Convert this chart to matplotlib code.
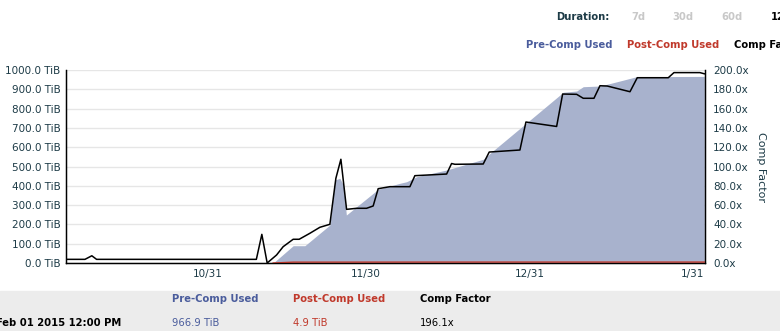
import matplotlib
matplotlib.use("Agg")
import matplotlib.pyplot as plt
from matplotlib.patches import Rectangle

# days relative to 10/31/2014
cf_day = [-26.7, -23.3, -22.0, -21.1, 9.2, 10.24, 11.25, 13.03, 14.28, 16.18, 17.32,
          19.35, 21.24, 23.14, 24.28, 25.23, 26.31, 28.21, 30.10, 31.35, 32.30,
          34.52, 38.32, 39.26, 45.28, 46.22, 46.85, 52.22, 53.36, 59.18, 60.32,
          66.14, 67.28, 69.94, 71.19, 73.22, 74.36, 75.74, 80.05, 81.43, 87.31,
          88.39, 93.32, 94.14]
comp_factor = [3.8, 3.8, 7.5, 3.8, 3.8, 29.7, 0.0, 8.3, 16.9, 24.6, 24.6,
               30.8, 37.0, 40.1, 87.8, 107.5, 55.6, 56.7, 56.7, 59.1, 77.0,
               79.1, 79.1, 90.5, 92.2, 103.1, 102.3, 102.6, 115.0, 117.1, 146.1,
               141.5, 175.1, 174.8, 170.7, 170.7, 183.7, 183.4, 177.5, 192.0, 192.0,
               197.3, 197.3, 196.1]

pre_day = [-26.9, 11.44, 12.39, 16.18, 18.40, 23.14, 24.09, 25.04, 25.7, 26.27,
           32.30, 36.42, 37.69, 39.59, 45.28, 52.22, 54.11, 67.39, 69.94, 71.19,
           74.36, 76.88, 81.32, 94.14]
pre_comp = [0, 0, 0, 89.6, 89.6, 196.9, 430, 438.9, 403, 248.7,
            381.9, 413, 421, 447, 481.9, 537.3, 581.9, 884.5, 891.2, 913.5,
            917, 934.2, 965.3, 966.9]

post_day = [12.39, 16.18, 25.0, 40.0, 60.0, 94.14]
post_comp = [0, 4.5, 4.6, 4.8, 4.9, 4.9]

tick_days = [0, 30, 61, 92]
tick_labels = ['10/31', '11/30', '12/31', '1/31']

txt = '#1d3b47'
hdr = dict(family='DejaVu Sans', fontstretch='condensed', fontsize=8, va='center')

fig = plt.figure(figsize=(7.8, 3.31), dpi=100)
fig.patches.append(Rectangle((0, 0), 1, 0.121, transform=fig.transFigure,
                             color='#ececec', zorder=0))

ax = fig.add_axes([0.0846, 0.2054, 0.8192, 0.5831])
ax.fill_between(pre_day, pre_comp, 0, color='#a8b2cd', lw=0, zorder=2)
ax.plot(post_day, post_comp, color='#c0392b', lw=1, zorder=3)
ax.set_xlim(-26.9, 94.27)
ax.set_ylim(0, 1000)
ax.set_yticks(range(0, 1001, 100))
ax.set_yticklabels(['%.1f TiB' % v for v in range(0, 1001, 100)])
ax.set_xticks(tick_days)
ax.set_xticklabels(tick_labels)
ax.grid(axis='y', color='#e6e6e6', lw=1, zorder=0)
ax.set_axisbelow(True)
ax.tick_params(length=0, labelsize=7.5, labelcolor=txt, pad=4)
ax.spines['top'].set_visible(False)
for s in ['left', 'bottom', 'right']:
    ax.spines[s].set_color('black')
    ax.spines[s].set_linewidth(1)

ax2 = ax.twinx()
ax2.plot(cf_day, comp_factor, color='black', lw=1.1)
ax2.set_ylim(0, 200)
ax2.set_yticks(range(0, 201, 20))
ax2.set_yticklabels(['%.1fx' % v for v in range(0, 201, 20)])
ax2.tick_params(length=0, labelsize=7.5, labelcolor=txt, pad=6)
ax2.spines['top'].set_visible(False)
ax2.set_ylabel('Comp Factor', rotation=270, fontsize=8, color=txt, labelpad=12)

# header
fig.text(556/780, 0.9486, 'Duration:', weight='bold', color=txt, **hdr)
for x, s in [(631, '7d'), (672, '30d'), (721, '60d')]:
    fig.text(x/780, 0.9486, s, weight='bold', color='#c8c8c8', **hdr)
fig.text(771/780, 0.9486, '120d', weight='bold', color='black', **hdr)

fig.text(526/780, 0.864, 'Pre-Comp Used', weight='bold', color='#4a5c9c', **hdr)
fig.text(627/780, 0.864, 'Post-Comp Used', weight='bold', color='#c0392b', **hdr)
fig.text(734/780, 0.864, 'Comp Factor', weight='bold', color='black', **hdr)

# bottom info panel
fig.text(172/780, 0.0967, 'Pre-Comp Used', weight='bold', color='#4a5c9c', **hdr)
fig.text(293/780, 0.0967, 'Post-Comp Used', weight='bold', color='#c0392b', **hdr)
fig.text(420/780, 0.0967, 'Comp Factor', weight='bold', color='black', **hdr)
fig.text(121/780, 0.024, 'Feb 01 2015 12:00 PM', weight='bold', color='black', ha='right', **hdr)
fig.text(172/780, 0.024, '966.9 TiB', color='#4a5c9c', **hdr)
fig.text(293/780, 0.024, '4.9 TiB', color='#c0392b', **hdr)
fig.text(420/780, 0.024, '196.1x', color='black', **hdr)

fig.savefig('out.png', dpi=100)
